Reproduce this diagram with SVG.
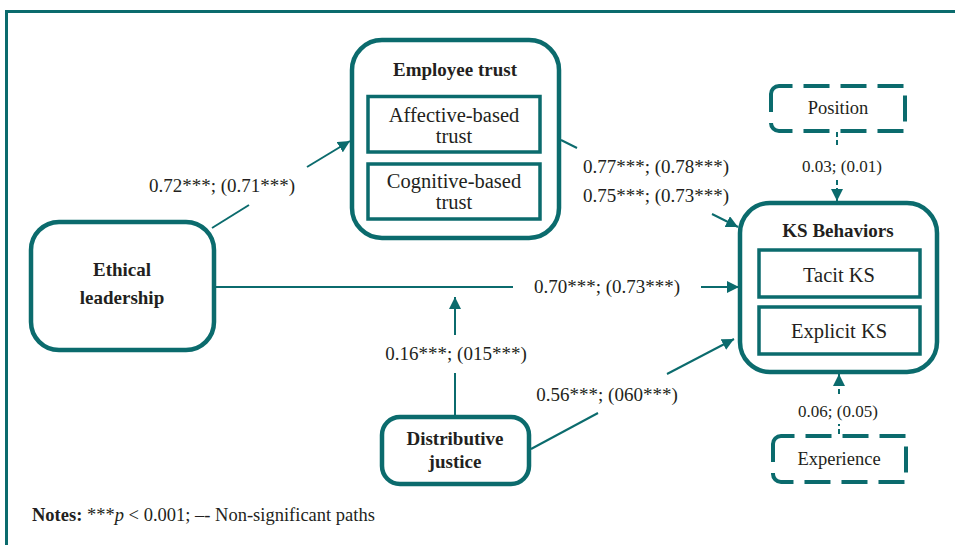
<svg xmlns="http://www.w3.org/2000/svg" width="955" height="545" viewBox="0 0 955 545">
<style>
.outer{fill:#fff;stroke:#0B6B6D;stroke-width:4.5}
.inner{fill:#fff;stroke:#0B6B6D;stroke-width:3.5}
.dash{fill:#fff;stroke:#0B6B6D;stroke-width:4;stroke-dasharray:26 11}
.ln{fill:none;stroke:#0B6B6D;stroke-width:2}
.dl{fill:none;stroke:#0B6B6D;stroke-width:2;stroke-dasharray:5 3}
text{fill:#231F20;text-anchor:middle}
.b{font-weight:bold;font-size:19px}
.in{font-size:20.5px}
.lb{font-size:19px}
.sm{font-size:17px}
.cv{font-size:18.5px}
</style>
<defs>
<marker id="ah" viewBox="0 0 12 12" refX="12" refY="6" markerWidth="12" markerHeight="12" markerUnits="userSpaceOnUse" orient="auto">
<path d="M0,0 L12,6 L0,12 z" fill="#0B6B6D"/>
</marker>
</defs>
<rect width="955" height="545" fill="#fff"/>
<path d="M6.5,545 V11.5 H955" fill="none" stroke="#0B6B6D" stroke-width="3"/>
<g font-family="Liberation Serif, Times New Roman, serif">
<g id="connectors">
<line class="ln" x1="212" y1="228" x2="249" y2="205"/>
<line class="ln" x1="307" y1="167" x2="350" y2="141" marker-end="url(#ah)"/>
<line class="ln" x1="561" y1="140" x2="577" y2="148"/>
<line class="ln" x1="712" y1="214" x2="738" y2="227" marker-end="url(#ah)"/>
<line class="ln" x1="216" y1="287" x2="513" y2="287"/>
<line class="ln" x1="701" y1="287" x2="739" y2="287" marker-end="url(#ah)"/>
<line class="ln" x1="455" y1="417" x2="455" y2="373"/>
<line class="ln" x1="455" y1="335" x2="455" y2="297" marker-end="url(#ah)"/>
<line class="ln" x1="531" y1="449" x2="598" y2="413"/>
<line class="ln" x1="667" y1="374" x2="734" y2="339" marker-end="url(#ah)"/>
<line class="dl" x1="837" y1="132" x2="837" y2="148"/>
<line class="dl" x1="837" y1="180" x2="837" y2="201" marker-end="url(#ah)"/>
<line class="dl" x1="839" y1="434" x2="839" y2="424"/>
<line class="dl" x1="839" y1="394" x2="839" y2="374" marker-end="url(#ah)"/>
<text class="lb" x="222" y="192">0.72***; (0.71***)</text>
<text class="lb" x="656" y="173">0.77***; (0.78***)</text>
<text class="lb" x="656" y="202">0.75***; (0.73***)</text>
<text class="lb" x="607" y="293">0.70***; (0.73***)</text>
<text class="lb" x="456" y="360">0.16***; (015***)</text>
<text class="lb" x="607" y="401">0.56***; (060***)</text>
<text class="sm" x="842" y="172">0.03; (0.01)</text>
<text class="sm" x="838" y="417">0.06; (0.05)</text>
</g>

<g id="employee-trust">
<rect class="outer" x="352" y="40" width="207" height="198" rx="30"/>
<text class="b" x="455" y="76">Employee trust</text>
<rect class="inner" x="368" y="96.5" width="172" height="55.5"/>
<text class="in" x="454" y="122">Affective-based</text>
<text class="in" x="454" y="143">trust</text>
<rect class="inner" x="368" y="164" width="172" height="55"/>
<text class="in" x="454" y="188">Cognitive-based</text>
<text class="in" x="454" y="209">trust</text>
</g>

<g id="ethical-leadership">
<rect class="outer" x="31" y="222" width="183" height="128" rx="28"/>
<text class="b" x="122" y="276">Ethical</text>
<text class="b" x="122" y="304">leadership</text>
</g>

<g id="distributive-justice">
<rect class="outer" x="382" y="417" width="147" height="67" rx="18"/>
<text class="b" x="455" y="445">Distributive</text>
<text class="b" x="455" y="468">justice</text>
</g>

<g id="ks-behaviors">
<rect class="outer" x="740" y="203" width="197" height="169" rx="30"/>
<text class="b" x="838" y="237">KS Behaviors</text>
<rect class="inner" x="759" y="250" width="161" height="47"/>
<text class="in" x="839" y="282">Tacit KS</text>
<rect class="inner" x="759" y="307" width="161" height="47"/>
<text class="in" x="839" y="338">Explicit KS</text>
</g>

<g id="position">
<path class="dash" d="M771,94 A8,8 0 0 1 779,86 H905 V131 H779 A8,8 0 0 1 771,123 Z"/>
<text class="cv" x="838" y="114">Position</text>
</g>

<g id="experience">
<path class="dash" d="M773,444 A8,8 0 0 1 781,436 H906 V482 H781 A8,8 0 0 1 773,474 Z"/>
<text class="cv" x="839" y="465">Experience</text>
</g>

<text x="32" y="521" style="font-size:18.5px;text-anchor:start"><tspan font-weight="bold">Notes:</tspan> ***<tspan font-style="italic">p</tspan> &lt; 0.001; –- Non-significant paths</text>
</g>
</svg>
